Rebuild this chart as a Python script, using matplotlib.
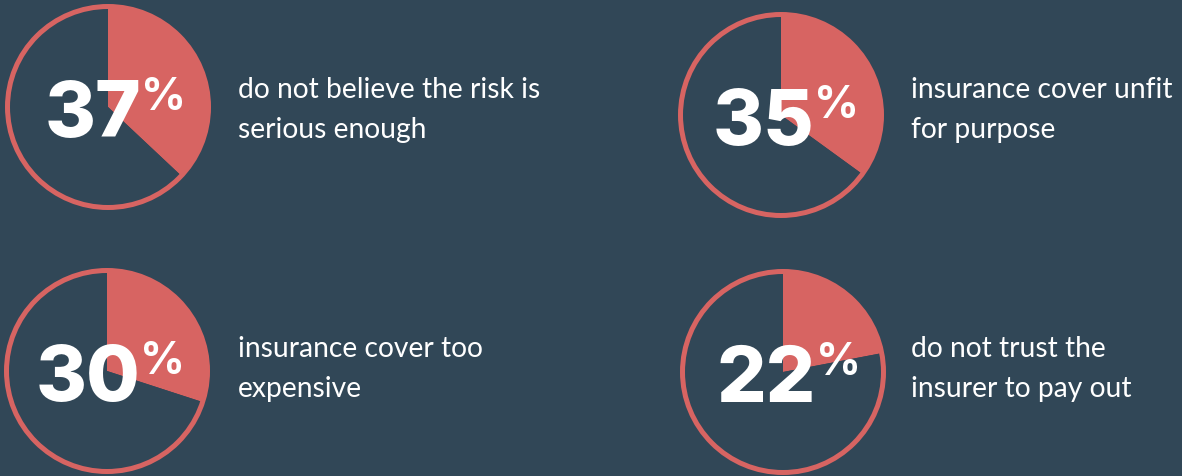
import matplotlib
matplotlib.use('Agg')
import matplotlib.pyplot as plt
from matplotlib.patches import Circle

# values
percents = [37, 35, 30, 22]
labels = [
    'do not believe the risk is\nserious enough',
    'insurance cover unfit\nfor purpose',
    'insurance cover too\nexpensive',
    'do not trust the\ninsurer to pay out',
]
# pie centres in pixels (x, y from top)
centres = [(108, 108), (781, 116), (107, 372), (783, 373)]
# first-line baseline of each description, pixels from top
label_pos = [(238, 98), (911, 98), (238, 357), (911, 357)]

BG = '#314757'
RED = '#D76462'
W, H = 1182, 477

fig = plt.figure(figsize=(W / 100, H / 100), dpi=100, facecolor=BG)
ax = fig.add_axes([0, 0, 1, 1])
ax.set_facecolor(BG)

for pct, label, (cx, cy), (lx, ly) in zip(percents, labels, centres, label_pos):
    y = H - cy
    ax.pie([pct, 100 - pct], colors=[RED, BG], startangle=90, counterclock=False,
           center=(cx, y), radius=100, wedgeprops=dict(linewidth=0))
    ax.add_patch(Circle((cx, y), 100.5, fill=False, edgecolor=RED, linewidth=3.6))
    ax.text(cx + 33, y - 29, str(pct), color='white', fontsize=56, fontfamily='Inter',
            fontweight=800, ha='right', va='baseline')
    ax.text(cx + 33, y + 31, '%', color='white', fontsize=32, fontfamily='Inter',
            fontweight='bold', ha='left', va='top')
    # description, one line at a time (40 px apart)
    for i, line in enumerate(label.split('\n')):
        ax.text(lx, H - ly - 40 * i, line, color='white', fontsize=20.3,
                fontfamily='Lato', ha='left', va='baseline')

ax.set_xlim(0, W)
ax.set_ylim(0, H)
ax.set_aspect('equal')
ax.axis('off')

fig.savefig('out.png', dpi=100, facecolor=BG)
